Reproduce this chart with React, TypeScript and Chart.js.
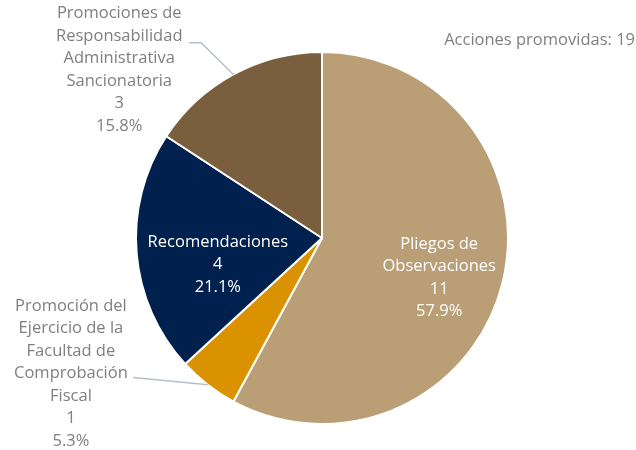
import React, { useEffect, useRef } from "react";
import { Chart, registerables } from "chart.js";
Chart.register(...registerables);

const categories = [
  "Pliegos de Observaciones",
  "Promoción del Ejercicio de la Facultad de Comprobación Fiscal",
  "Recomendaciones",
  "Promociones de Responsabilidad Administrativa Sancionatoria",
];
const labelLines = [
  ["Pliegos de", "Observaciones"],
  ["Promoción del", "Ejercicio de la", "Facultad de", "Comprobación", "Fiscal"],
  ["Recomendaciones"],
  ["Promociones de", "Responsabilidad", "Administrativa", "Sancionatoria"],
];
const values = [11, 1, 4, 3];
const colors = ["#B99E76", "#DB9200", "#00214D", "#7A5F3E"];
const titleText = "Acciones promovidas: 19";

// label placement relative to pie center, in units of radius
const labelPos = [
  { fx: 0.63, fy: 0.215, inside: true },
  { fx: -1.35, fy: 0.73, inside: false, lead: [[-1.015, 0.75]] },
  { fx: -0.56, fy: 0.144, inside: true },
  { fx: -1.09, fy: -0.905, inside: false, lead: [[-0.715, -1.05], [-0.65, -1.05]] },
];

const FONT = '16.5px "Open Sans", sans-serif';
const LH = 22.5;

const labelPlugin = {
  id: "pieLabels",
  afterDatasetsDraw(chart: any) {
    const ctx = chart.ctx;
    const meta = chart.getDatasetMeta(0);
    const total = values.reduce((a, b) => a + b, 0);
    ctx.save();
    ctx.font = FONT;
    ctx.textAlign = "center";
    ctx.textBaseline = "middle";
    meta.data.forEach((arc: any, i: number) => {
      const { x: cx, y: cy, outerRadius: r, startAngle, endAngle } = arc.getProps(
        ["x", "y", "outerRadius", "startAngle", "endAngle"],
        true
      );
      const p = labelPos[i];
      const lines = [...labelLines[i], String(values[i]), ((values[i] / total) * 100).toFixed(1) + "%"];
      const tx = cx + p.fx * r;
      const ty = cy + p.fy * r;
      if (!p.inside && p.lead) {
        const mid = (startAngle + endAngle) / 2;
        const ex = cx + Math.cos(mid) * r;
        const ey = cy + Math.sin(mid) * r;
        ctx.strokeStyle = "#B7BFCC";
        ctx.lineWidth = 1.5;
        ctx.beginPath();
        p.lead.forEach((pt: number[], k: number) => {
          const px = cx + pt[0] * r;
          const py = cy + pt[1] * r;
          if (k === 0) ctx.moveTo(px, py);
          else ctx.lineTo(px, py);
        });
        ctx.lineTo(ex, ey);
        ctx.stroke();
      }
      ctx.fillStyle = p.inside ? "#FFFFFF" : "#7F7F7F";
      const y0 = ty - ((lines.length - 1) * LH) / 2;
      lines.forEach((ln, k) => ctx.fillText(ln, tx, y0 + k * LH));
    });
    ctx.fillStyle = "#7F7F7F";
    ctx.textAlign = "right";
    ctx.fillText(titleText, chart.width - 1, 40);
    ctx.restore();
  },
};

export default function App() {
  const ref = useRef<HTMLCanvasElement>(null);
  useEffect(() => {
    document.body.style.margin = "0";
    const chart = new Chart(ref.current!, {
      type: "pie",
      data: {
        labels: categories,
        datasets: [
          {
            data: values,
            backgroundColor: colors,
            borderColor: "#FFFFFF",
            borderWidth: 2,
          },
        ],
      },
      options: {
        responsive: false,
        animation: false,
        layout: { padding: { top: 51, bottom: 25, left: 135, right: 127 } },
        plugins: { legend: { display: false }, tooltip: { enabled: false } },
      },
      plugins: [labelPlugin],
    });
    return () => chart.destroy();
  }, []);
  return <canvas ref={ref} width={636} height={450} style={{ display: "block" }} />;
}
